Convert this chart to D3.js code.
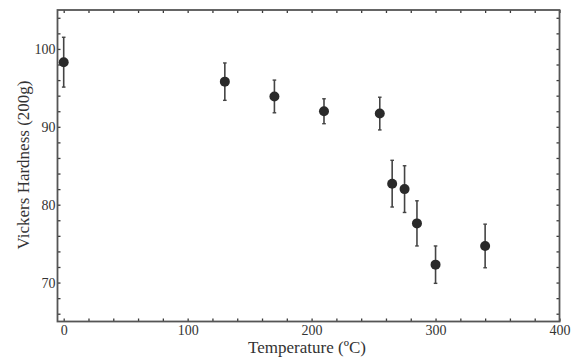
<!DOCTYPE html>
<html><head><meta charset="utf-8">
<script src="https://cdn.jsdelivr.net/npm/d3@7"></script>
<style>body{margin:0;background:#fff}svg{display:block}</style>
</head><body>
<svg id="c" width="572" height="358"></svg>
<script>
const temperatures = [0, 130, 170, 210, 255, 265, 275, 285, 300, 340];
const hardness = [98.3, 95.8, 93.9, 92.0, 91.7, 82.7, 82.0, 77.6, 72.3, 74.7];
const errors = [3.2, 2.4, 2.1, 1.6, 2.1, 3.0, 3.0, 2.9, 2.4, 2.8];
const xTicks = [0, 100, 200, 300, 400];
const yTicks = [70, 80, 90, 100];
const xLabel = "Temperature (\u00BAC)";
const yLabel = "Vickers Hardness (200g)";

const svg = d3.select("#c");
const L = 57.5, R = 559.5, T = 10, B = 321.5;
const x = d3.scaleLinear().domain([-5, 400]).range([L, R]);
const y = d3.scaleLinear().domain([65, 105]).range([B, T]);
const ink = "#3a3a3a";
const font = "Liberation Serif, Times New Roman, serif";

// minor ticks
const xMinor = d3.range(0, 401, 20);
const yMinor = d3.range(66, 105, 2);

const gx = svg.append("g").attr("transform", `translate(0,${B})`)
  .call(d3.axisBottom(x).tickValues(xMinor).tickSize(-3).tickFormat(""));
const gxt = svg.append("g").attr("transform", `translate(0,${T})`)
  .call(d3.axisTop(x).tickValues(xMinor).tickSize(-3).tickFormat(""));
const gy = svg.append("g").attr("transform", `translate(${L},0)`)
  .call(d3.axisLeft(y).tickValues(yMinor).tickSize(-3).tickFormat(""));
const gyr = svg.append("g").attr("transform", `translate(${R},0)`)
  .call(d3.axisRight(y).tickValues(yMinor).tickSize(-3).tickFormat(""));
[gx, gxt, gy, gyr].forEach(g => {
  g.select(".domain").remove();
  g.selectAll("line").attr("stroke", ink).attr("stroke-width", 1.3);
});

// tick labels
const gxl = svg.append("g").attr("transform", `translate(0,${B})`)
  .call(d3.axisBottom(x).tickValues(xTicks).tickSize(0).tickPadding(4).tickFormat(d3.format("d")));
gxl.select(".domain").remove();
gxl.selectAll("text").attr("font-family", font).attr("font-size", 14).attr("fill", "#333");
const gyl = svg.append("g").attr("transform", `translate(${L},0)`)
  .call(d3.axisLeft(y).tickValues(yTicks).tickSize(0).tickPadding(2).tickFormat(d3.format("d")));
gyl.select(".domain").remove();
gyl.selectAll("text").attr("font-family", font).attr("font-size", 14).attr("fill", "#333");

// frame
svg.append("rect").attr("x", L).attr("y", T).attr("width", R - L).attr("height", B - T)
  .attr("fill", "none").attr("stroke", "#555").attr("stroke-width", 1.8);

// error bars
const data = temperatures.map((t, i) => ({t, h: hardness[i], e: errors[i]}));
const eb = svg.append("g").selectAll("g").data(data).join("g");
eb.append("line").attr("x1", d => x(d.t)).attr("x2", d => x(d.t))
  .attr("y1", d => y(d.h + d.e)).attr("y2", d => y(d.h - d.e))
  .attr("stroke", "#444").attr("stroke-width", 1.6);
eb.append("line").attr("x1", d => x(d.t) - 1.8).attr("x2", d => x(d.t) + 1.8)
  .attr("y1", d => y(d.h + d.e)).attr("y2", d => y(d.h + d.e))
  .attr("stroke", "#444").attr("stroke-width", 1.4);
eb.append("line").attr("x1", d => x(d.t) - 1.8).attr("x2", d => x(d.t) + 1.8)
  .attr("y1", d => y(d.h - d.e)).attr("y2", d => y(d.h - d.e))
  .attr("stroke", "#444").attr("stroke-width", 1.4);
eb.append("circle").attr("cx", d => x(d.t)).attr("cy", d => y(d.h)).attr("r", 5)
  .attr("fill", "#2a2a2a");

// axis labels
svg.append("text").attr("x", 307).attr("y", 353).attr("text-anchor", "middle")
  .attr("font-family", font).attr("font-size", 17).attr("fill", "#333").text(xLabel);
svg.append("text").attr("transform", "translate(29,165) rotate(-90)").attr("text-anchor", "middle")
  .attr("font-family", font).attr("font-size", 17).attr("fill", "#333").text(yLabel);
</script>
</body></html>
